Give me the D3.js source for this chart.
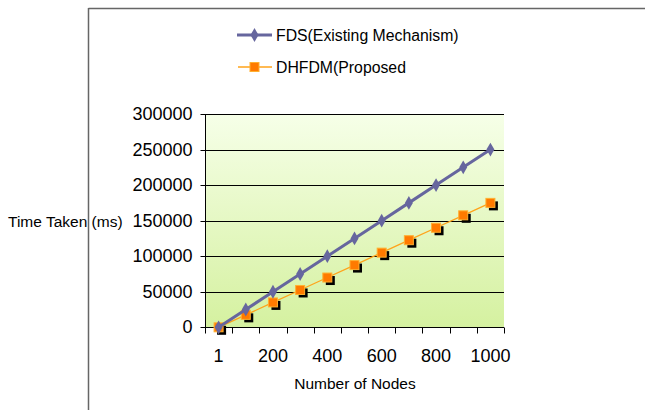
<!DOCTYPE html>
<html><head><meta charset="utf-8">
<script src="https://cdn.jsdelivr.net/npm/d3@7"></script>
<style>
html,body{margin:0;padding:0;background:#fff;}
svg{display:block;font-family:"Liberation Sans",Arial,sans-serif;}
</style></head>
<body>
<svg id="c" width="645" height="410"></svg>
<script>
const categories = ["1","100","200","300","400","500","600","700","800","900","1000"];
const shownLabels = ["1","200","400","600","800","1000"];
const fdsValues = [0,25000,50000,75000,100000,125000,150000,175000,200000,225000,250000];
const dhfdmValues = [0,17500,35000,52500,70000,87500,105000,122500,140000,157500,175000];
const yTicks = [0,50000,100000,150000,200000,250000,300000];
const seriesNames = ["FDS(Existing Mechanism)","DHFDM(Proposed"];

(function(){
const svg = d3.select("#c");
const pl = 205, pr = 504, pt = 114, pb = 327.3;

const x = d3.scaleBand().domain(categories).range([pl, pr]).padding(0);
const y = d3.scaleLinear().domain([0, 300000]).range([pb, pt]);

const defs = svg.append("defs");
const grad = defs.append("linearGradient").attr("id","bg").attr("x1",0).attr("y1",0).attr("x2",0).attr("y2",1);
grad.append("stop").attr("offset","0%").attr("stop-color","#f6ffe8");
grad.append("stop").attr("offset","100%").attr("stop-color","#d5f1a0");

// outer frame (top)
svg.append("line").attr("x1",88.5).attr("x2",645).attr("y1",8.5).attr("y2",8.5).attr("stroke","#666").attr("stroke-width",1.5);

// plot background
svg.append("rect").attr("x",pl).attr("y",pt).attr("width",pr-pl).attr("height",pb-pt).attr("fill","url(#bg)");

// gridlines
svg.append("g").selectAll("line").data(yTicks).join("line")
  .attr("x1",pl).attr("x2",pr)
  .attr("y1",d=>Math.round(y(d))+0.5).attr("y2",d=>Math.round(y(d))+0.5)
  .attr("stroke","#000").attr("stroke-width",1);

// y axis
const yAxis = d3.axisLeft(y).tickValues(yTicks).tickSize(5).tickPadding(8).tickFormat(d3.format("d"));
const gy = svg.append("g").attr("transform",`translate(${pl+0.5},0)`).call(yAxis);
gy.select(".domain").attr("stroke","#000").attr("d",`M0,${Math.round(pt)}V${Math.round(pb)+0.5}`);
gy.selectAll(".tick").attr("transform",d=>`translate(0,${Math.round(y(d))+0.5})`);
gy.selectAll(".tick line").attr("stroke","#000");
gy.selectAll(".tick text").attr("font-size","18px").attr("fill","#000").attr("font-family","Liberation Sans, Arial, sans-serif");

// x axis line and ticks at band edges
const xb = Math.round(pb)+0.5;
svg.append("line").attr("x1",pl).attr("x2",pr).attr("y1",xb).attr("y2",xb).attr("stroke","#000");
const edges = categories.map(c=>x(c)).concat([x.range()[1]]);
svg.append("g").selectAll("line").data(edges).join("line")
  .attr("x1",d=>Math.round(d)+0.5).attr("x2",d=>Math.round(d)+0.5)
  .attr("y1",xb).attr("y2",xb+6).attr("stroke","#000");
svg.append("g").selectAll("text").data(shownLabels).join("text")
  .attr("x",d=>x(d)+x.bandwidth()/2).attr("y",362)
  .attr("text-anchor","middle").attr("font-size","18px").attr("fill","#000").text(d=>d);

// axis titles
svg.append("text").attr("x",355).attr("y",389).attr("text-anchor","middle").attr("font-size","15.5px").attr("fill","#000").text("Number of Nodes");
svg.append("text").attr("x",8).attr("y",227).attr("font-size","15.5px").attr("fill","#000").text("Time Taken (ms)");

// left frame line (drawn over title)
svg.append("line").attr("x1",88.5).attr("x2",88.5).attr("y1",8).attr("y2",410).attr("stroke","#666").attr("stroke-width",1.5);

const cx = c => x(c) + x.bandwidth()/2;
const line = d3.line().x((d,i)=>cx(categories[i])).y(d=>y(d));

// DHFDM series
svg.append("path").datum(dhfdmValues).attr("d",line).attr("fill","none").attr("stroke","#ffa31a").attr("stroke-width",1.3);
const sq = 9;
svg.append("g").selectAll("rect").data(dhfdmValues).join("rect")
  .attr("x",(d,i)=>cx(categories[i])-sq/2+3).attr("y",d=>y(d)-sq/2+3)
  .attr("width",sq).attr("height",sq).attr("fill","#000");
svg.append("g").selectAll("rect").data(dhfdmValues).join("rect")
  .attr("x",(d,i)=>cx(categories[i])-sq/2).attr("y",d=>y(d)-sq/2)
  .attr("width",sq).attr("height",sq).attr("fill","#ff7a00").attr("stroke","#ffb030").attr("stroke-width",1);

// FDS series
svg.append("path").datum(fdsValues).attr("d",line).attr("fill","none").attr("stroke","#66669e").attr("stroke-width",3);
const diamond = d3.symbol().type(d3.symbolDiamond).size(55);
svg.append("g").selectAll("path").data(fdsValues).join("path")
  .attr("transform",(d,i)=>`translate(${cx(categories[i])},${y(d)})`)
  .attr("d",diamond).attr("fill","#66669e");

// legend
const lg = svg.append("g");
lg.append("line").attr("x1",237).attr("x2",272).attr("y1",35).attr("y2",35).attr("stroke","#66669e").attr("stroke-width",3);
lg.append("path").attr("transform","translate(254.5,35)").attr("d",diamond).attr("fill","#66669e");
lg.append("text").attr("x",276).attr("y",41).attr("font-size","15.8px").attr("fill","#000").text(seriesNames[0]);
lg.append("line").attr("x1",238).attr("x2",272).attr("y1",67).attr("y2",67).attr("stroke","#ffa31a").attr("stroke-width",1.3);
lg.append("rect").attr("x",254.5-sq/2).attr("y",67-sq/2).attr("width",sq).attr("height",sq).attr("fill","#ff7a00").attr("stroke","#ffb030");
lg.append("text").attr("x",276).attr("y",73).attr("font-size","15.8px").attr("fill","#000").text(seriesNames[1]);
})();
</script>
</body></html>
